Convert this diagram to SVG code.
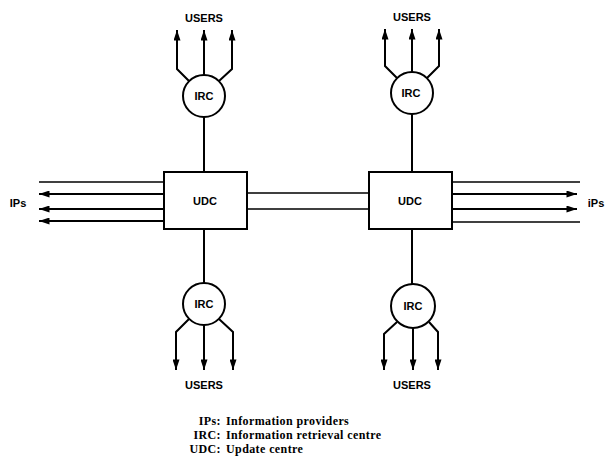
<svg xmlns="http://www.w3.org/2000/svg" width="609" height="475" viewBox="0 0 609 475">
<style>
.ln{fill:none;stroke:#000;stroke-width:2}
.thin{fill:none;stroke:#000;stroke-width:1.6}
.box{fill:#fff;stroke:#000;stroke-width:2}
.lbl{font-family:"Liberation Sans",Arial,sans-serif;font-weight:bold;font-size:11px;fill:#000;text-anchor:middle}
.leg{font-family:"Liberation Serif","Times New Roman",serif;font-size:12px;font-weight:bold;letter-spacing:0.4px;fill:#000}
</style>
<defs>
<marker id="ah" viewBox="0 0 12 8" refX="12" refY="4" markerWidth="12" markerHeight="7" orient="auto" markerUnits="userSpaceOnUse">
<path d="M0,0 L12,4 L0,8 z" fill="#000"/>
</marker>
</defs>
<g id="connectors">
<path class="ln" d="M204,117 V172 M204,229 V283 M412,114 V172 M412,229 V284"/>
<path class="thin" d="M247,193 H370 M247,209 H370"/>
<path class="thin" d="M164,182 H39"/>
<path class="ln" marker-end="url(#ah)" d="M164,194 H39"/>
<path class="ln" marker-end="url(#ah)" d="M164,209 H39"/>
<path class="ln" marker-end="url(#ah)" d="M164,221 H39"/>
<path class="thin" d="M452,182 H580"/>
<path class="ln" marker-end="url(#ah)" d="M452,194 H577"/>
<path class="ln" marker-end="url(#ah)" d="M452,209 H577"/>
<path class="thin" d="M452,222 H580"/>
<path class="ln" marker-end="url(#ah)" d="M189,81 L177,69 V30"/>
<path class="ln" marker-end="url(#ah)" d="M204,75 V30"/>
<path class="ln" marker-end="url(#ah)" d="M219,81 L232,69 V30"/>
<path class="ln" marker-end="url(#ah)" d="M397,78 L385,66 V29"/>
<path class="ln" marker-end="url(#ah)" d="M412,72 V29"/>
<path class="ln" marker-end="url(#ah)" d="M427,78 L439,66 V29"/>
<path class="ln" marker-end="url(#ah)" d="M189,319 L176,332 V370"/>
<path class="ln" marker-end="url(#ah)" d="M204,325 V370"/>
<path class="ln" marker-end="url(#ah)" d="M219,319 L233,332 V370"/>
<path class="ln" marker-end="url(#ah)" d="M397,322 L384,334 V370"/>
<path class="ln" marker-end="url(#ah)" d="M413,328 V370"/>
<path class="ln" marker-end="url(#ah)" d="M429,322 L438,332 V370"/>
</g>
<g id="udc-left">
<rect class="box" x="164" y="172" width="83" height="57"/>
<text class="lbl" x="205" y="205">UDC</text>
</g>
<g id="udc-right">
<rect class="box" x="369" y="172" width="83" height="57"/>
<text class="lbl" x="410" y="205">UDC</text>
</g>
<g id="irc-top-left">
<circle class="box" cx="204" cy="96" r="21"/>
<text class="lbl" x="204" y="100">IRC</text>
</g>
<g id="irc-top-right">
<circle class="box" cx="412" cy="93" r="21"/>
<text class="lbl" x="411" y="97">IRC</text>
</g>
<g id="irc-bottom-left">
<circle class="box" cx="204" cy="304" r="21"/>
<text class="lbl" x="204" y="308">IRC</text>
</g>
<g id="irc-bottom-right">
<circle class="box" cx="413" cy="306" r="22"/>
<text class="lbl" x="413" y="310">IRC</text>
</g>
<g id="users-labels">
<text class="lbl" x="204" y="22">USERS</text>
<text class="lbl" x="412" y="21">USERS</text>
<text class="lbl" x="204" y="389">USERS</text>
<text class="lbl" x="412" y="389">USERS</text>
</g>
<g id="ips-labels">
<text class="lbl" x="18" y="207">IPs</text>
<text class="lbl" x="596" y="207">iPs</text>
</g>
<g id="legend">
<text class="leg" x="221" y="425" text-anchor="end">IPs:</text>
<text class="leg" x="226" y="425">Information providers</text>
<text class="leg" x="221" y="439" text-anchor="end">IRC:</text>
<text class="leg" x="226" y="439">Information retrieval centre</text>
<text class="leg" x="221" y="453" text-anchor="end">UDC:</text>
<text class="leg" x="226" y="453">Update centre</text>
</g>
</svg>
